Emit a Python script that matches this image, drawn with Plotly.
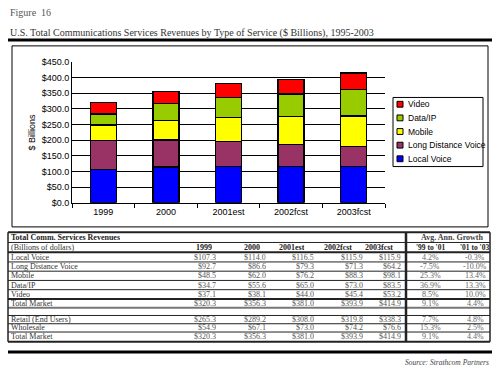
import plotly.graph_objects as go

W, H = 500, 374

# ---------------- data ----------------
categories = ["1999", "2000", "2001est", "2002fcst", "2003fcst"]
local_voice = [107.3, 114.0, 116.5, 115.9, 115.9]
long_distance = [92.7, 86.6, 79.3, 71.3, 64.2]
mobile = [48.5, 62.0, 76.2, 88.3, 98.1]
data_ip = [34.7, 55.6, 65.0, 73.0, 83.5]
video = [37.1, 38.1, 44.0, 45.4, 53.2]
total_market = [320.3, 356.3, 381.0, 393.9, 414.9]
retail = [265.3, 289.2, 308.0, 319.8, 338.3]
wholesale = [54.9, 67.1, 73.0, 74.2, 76.6]

growth_labels = ["'99 to '01", "'01 to '03"]
growth_99_01 = [4.2, -7.5, 25.3, 36.9, 8.5, 9.1, 7.7, 15.3, 9.1]
growth_01_03 = [-0.3, -10.0, 13.4, 13.3, 10.0, 4.4, 4.8, 2.5, 4.4]

series_names = ["Local Voice", "Long Distance Voice", "Mobile", "Data/IP", "Video"]
series_values = [local_voice, long_distance, mobile, data_ip, video]
series_colors = ["#0000FF", "#993366", "#FFFF00", "#99CC00", "#FF0000"]

table_labels = ["Local Voice", "Long Distance Voice", "Mobile", "Data/IP", "Video",
                "Total Market", None, "Retail (End Users)", "Wholesale", "Total Market"]
table_values = [local_voice, long_distance, mobile, data_ip, video, total_market,
                None, retail, wholesale, total_market]


def px(x):
    return x / W


def py(y):
    return 1 - y / H


fig = go.Figure()
for name, vals, col in zip(series_names, series_values, series_colors):
    fig.add_trace(go.Bar(
        x=categories, y=vals, name=name, showlegend=False,
        marker=dict(color=col, line=dict(color="black", width=1.5)),
    ))

shapes = []
annotations = []

# chart box
shapes.append(dict(type="rect", xref="paper", yref="paper",
                   x0=px(12), x1=px(488), y0=py(228), y1=py(42),
                   line=dict(color="black", width=1)))
# title underline
shapes.append(dict(type="line", xref="paper", yref="paper",
                   x0=px(8), x1=px(492), y0=py(36), y1=py(36),
                   line=dict(color="black", width=3)))

annotations.append(dict(text="Figure  16", x=px(8), y=py(8), xref="paper", yref="paper",
                        xanchor="left", yanchor="middle", showarrow=False,
                        font=dict(family="Liberation Serif", size=10, color="#555")))
annotations.append(dict(
    text="U.S. Total Communications Services Revenues by Type of Service ($ Billions), 1995-2003",
    x=px(8), y=py(29), xref="paper", yref="paper", xanchor="left", yanchor="middle",
    showarrow=False, font=dict(family="Liberation Serif", size=10, color="#333")))

# ---------------- legend (drawn compactly like the original) ----------------
shapes.append(dict(type="rect", xref="paper", yref="paper",
                   x0=px(393), x1=px(483), y0=py(166), y1=py(95),
                   line=dict(color="black", width=1), fillcolor="white"))
leg_y = [102, 116, 130, 144, 158]
for yc, name, col in zip(leg_y, series_names[::-1], series_colors[::-1]):
    shapes.append(dict(type="rect", xref="paper", yref="paper",
                       x0=px(397), x1=px(403), y0=py(yc + 3), y1=py(yc - 3),
                       line=dict(color="black", width=1), fillcolor=col))
    annotations.append(dict(text=name, x=px(406), y=py(yc), xref="paper", yref="paper",
                            xanchor="left", yanchor="middle", showarrow=False,
                            font=dict(family="Arial, Liberation Sans", size=8.5, color="black")))

# ---------------- table ----------------
tl, tr, tsep = 8, 490, 406
bounds = [233.5, 244, 254, 264, 273.5, 283, 292.5, 302, 311, 319, 327.5, 336, 346]
thick = {0: 2, 2: 2, 7: 2, 8: 2, 12: 2}
for i, b in enumerate(bounds):
    shapes.append(dict(type="line", xref="paper", yref="paper",
                       x0=px(tl), x1=px(tr), y0=py(b), y1=py(b),
                       line=dict(color="#222" if i != 8 else "#777", width=thick.get(i, 1))))
for xv, wv in [(tl, 1.5), (tr, 1.5), (tsep, 2.5)]:
    shapes.append(dict(type="line", xref="paper", yref="paper",
                       x0=px(xv), x1=px(xv), y0=py(bounds[0]), y1=py(bounds[-1]),
                       line=dict(color="#222", width=wv)))
shapes.append(dict(type="line", xref="paper", yref="paper",
                   x0=px(8), x1=px(492), y0=py(356.5), y1=py(356.5),
                   line=dict(color="black", width=3)))

centers = [(bounds[i] + bounds[i + 1]) / 2 for i in range(len(bounds) - 1)]
serif = "Liberation Serif"
fs = 8


def txt(t, x, y, anchor="left", bold=False, color="#333", italic=False, size=fs):
    if bold:
        t = "<b>" + t + "</b>"
    if italic:
        t = "<i>" + t + "</i>"
    annotations.append(dict(text=t, x=px(x), y=py(y), xref="paper", yref="paper",
                            xanchor=anchor, yanchor="middle", showarrow=False,
                            borderpad=0, height=9,
                            font=dict(family=serif, size=size, color=color)))


txt("Total Comm. Services Revenues", 10, centers[0], bold=True, color="#222")
txt("Avg. Ann. Growth", 452, centers[0], anchor="center", bold=True, color="#444")
txt("(Billions of dollars)", 10, centers[1], color="#333")
hdr_centers = [204, 252, 292, 338, 379]
val_right = [217, 267, 315, 364, 402]
for c, xc in zip(categories, hdr_centers):
    txt(c, xc, centers[1], anchor="center", bold=True, color="#222")
txt(growth_labels[0], 430, centers[1], anchor="center", bold=True, color="#222", size=7.5)
txt(growth_labels[1], 474, centers[1], anchor="center", bold=True, color="#222", size=7.5)

gi = 0
for r, (lab, vals) in enumerate(zip(table_labels, table_values)):
    yc = centers[r + 2]
    if lab is None:
        continue
    txt(lab, 10, yc, color="#333")
    for v, xr in zip(vals, val_right):
        txt("$%.1f" % v, xr, yc, anchor="right", color="#555")
    txt("%.1f%%" % growth_99_01[gi], 430, yc, anchor="center", color="#666")
    txt("%.1f%%" % growth_01_03[gi], 475, yc, anchor="center", color="#666")
    gi += 1

txt("Source: Strathcom Partners", 490, 367, anchor="right", italic=True, color="#444", size=7.5)

fig.update_layout(
    width=W, height=H, margin=dict(l=0, r=0, t=0, b=0),
    paper_bgcolor="white", plot_bgcolor="white",
    barmode="stack", bargap=0.585,
    font=dict(family="Arial, Liberation Sans", size=9, color="black"),
    showlegend=False,
    xaxis=dict(domain=[px(72), px(385)], showline=True, linecolor="black", linewidth=1,
               ticks="outside", tickson="boundaries", ticklen=4, tickcolor="black",
               tickfont=dict(size=9), showgrid=False),
    yaxis=dict(domain=[py(203.3), py(58.6)], range=[0, 450], dtick=50,
               tickprefix="$", tickformat=".1f", showline=True, linecolor="black",
               gridcolor="black", gridwidth=1, ticks="", tickfont=dict(size=9),
               title=dict(text="$ Billions", font=dict(size=9), standoff=4),
               zeroline=False),
    shapes=shapes, annotations=annotations,
)

fig.write_html(
    "out.html",
    config={"displayModeBar": False},
    post_script="document.body.style.margin='0';document.body.style.overflow='hidden';",
)
